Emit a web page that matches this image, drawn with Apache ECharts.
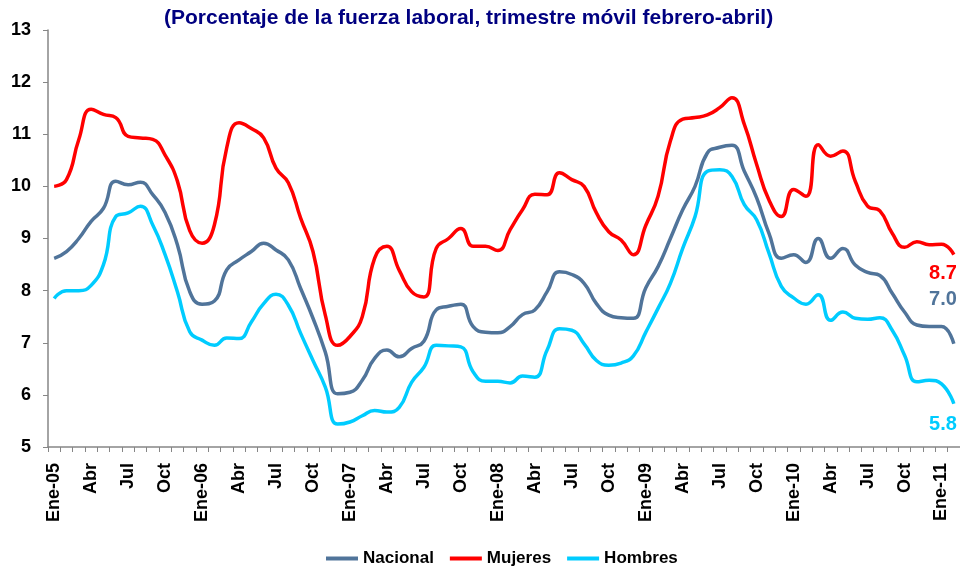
<!DOCTYPE html>
<html><head><meta charset="utf-8">
<script src="https://cdn.jsdelivr.net/npm/echarts@6/dist/echarts.min.js"></script>
<style>html,body{margin:0;padding:0;background:#fff}#c{width:960px;height:569px}</style>
</head><body><div id="c"></div><script>
const titleText = '(Porcentaje de la fuerza laboral, trimestre móvil febrero-abril)';
const categories = [
 'Ene-05','Feb-05','Mar-05','Abr-05','May-05','Jun-05','Jul-05','Ago-05','Sep-05','Oct-05','Nov-05','Dic-05',
 'Ene-06','Feb-06','Mar-06','Abr-06','May-06','Jun-06','Jul-06','Ago-06','Sep-06','Oct-06','Nov-06','Dic-06',
 'Ene-07','Feb-07','Mar-07','Abr-07','May-07','Jun-07','Jul-07','Ago-07','Sep-07','Oct-07','Nov-07','Dic-07',
 'Ene-08','Feb-08','Mar-08','Abr-08','May-08','Jun-08','Jul-08','Ago-08','Sep-08','Oct-08','Nov-08','Dic-08',
 'Ene-09','Feb-09','Mar-09','Abr-09','May-09','Jun-09','Jul-09','Ago-09','Sep-09','Oct-09','Nov-09','Dic-09',
 'Ene-10','Feb-10','Mar-10','Abr-10','May-10','Jun-10','Jul-10','Ago-10','Sep-10','Oct-10','Nov-10','Dic-10',
 'Ene-11','Feb-11'
];
const seriesNames = ['Nacional','Mujeres','Hombres'];
const nacional = [
 8.62,8.75,9.0,9.33,9.58,10.1,10.03,10.08,9.84,9.5,8.88,7.98,
 7.74,7.8,8.4,8.59,8.75,8.91,8.78,8.59,8.04,7.47,6.82,6.02,
 6.05,6.28,6.7,6.86,6.73,6.89,7.03,7.63,7.70,7.74,7.31,7.2,
 7.19,7.31,7.54,7.63,7.98,8.36,8.31,8.14,7.75,7.53,7.48,7.47,
 8.05,8.46,9.0,9.55,10.0,10.64,10.75,10.79,10.29,9.78,9.10,8.62,
 8.69,8.54,9.0,8.62,8.81,8.49,8.35,8.29,7.95,7.59,7.34,7.31,
 7.31,6.98
];
const mujeres = [
 10.0,10.13,10.9,11.48,11.38,11.32,10.96,10.93,10.9,10.6,10.1,9.15,
 8.91,9.26,10.74,11.22,11.11,10.93,10.35,10.07,9.39,8.75,7.53,6.95,
 7.12,7.5,8.62,8.85,8.39,7.98,7.88,8.81,9.0,9.19,8.85,8.85,
 8.77,9.17,9.55,9.85,9.84,10.26,10.13,10.0,9.49,9.13,8.97,8.69,
 9.25,9.81,10.87,11.29,11.32,11.37,11.51,11.70,11.19,10.42,9.74,9.42,
 9.94,9.81,10.8,10.58,10.68,10.1,9.62,9.53,9.1,8.83,8.94,8.88,
 8.89,8.69
];
const hombres = [
 7.85,8.0,8.0,8.1,8.5,9.42,9.49,9.62,9.26,8.69,7.98,7.21,
 7.05,6.95,7.09,7.08,7.40,7.75,7.93,7.72,7.18,6.66,6.15,5.44,
 5.48,5.6,5.7,5.67,5.76,6.24,6.53,6.95,6.94,6.92,6.44,6.26,
 6.26,6.23,6.36,6.34,6.86,7.27,7.24,6.98,6.66,6.57,6.61,6.75,
 7.2,7.66,8.14,8.81,9.42,10.29,10.32,10.19,9.65,9.36,8.72,8.08,
 7.86,7.74,7.92,7.43,7.59,7.47,7.45,7.48,7.24,6.76,6.25,6.28,
 6.21,5.83
];
const yMin = 5, yMax = 13, yStep = 1;
const colors = ['#50749A','#FF0000','#00CCFF'];
const endOffsets = [[-5,-44],[-5,19],[-5,21]];
const FONT = '"Liberation Sans", Arial, sans-serif';

const chart = echarts.init(document.getElementById('c'), null, {renderer:'canvas'});
const data = [nacional, mujeres, hombres];
chart.setOption({
  animation: false,
  backgroundColor: '#ffffff',
  title: {
    text: titleText, left: 164, top: 8, padding: 0,
    textStyle: {color:'#000080', fontWeight:'bold', fontSize:21, fontFamily:FONT}
  },
  legend: {
    data: seriesNames, left: 326, top: 550, padding: 0, icon: 'rect', itemWidth: 32, itemHeight: 4,
    itemGap: 16,
    textStyle: {color:'#000', fontWeight:'bold', fontSize:17, fontFamily:FONT}
  },
  grid: {left: 48, right: 0, top: 30, bottom: 122, containLabel: false, outerBoundsMode: 'none'},
  xAxis: {
    type: 'category', data: categories, boundaryGap: true,
    axisLine: {show:true, lineStyle:{color:'#868686', width:1.5}},
    axisTick: {show:true, interval:0, length:5, lineStyle:{color:'#868686'}},
    axisLabel: {
      interval: 2, rotate: 90, margin: 16, color:'#000', fontWeight:'bold', fontSize:18, fontFamily:FONT,
      formatter: v => v.startsWith('Ene') ? v : v.split('-')[0]
    },
    splitLine: {show:false}
  },
  yAxis: {
    type: 'value', min: yMin, max: yMax, interval: yStep,
    axisLine: {show:true, lineStyle:{color:'#868686', width:1.5}},
    axisTick: {show:true, length:5, lineStyle:{color:'#868686'}},
    axisLabel: {margin: 17, color:'#000', fontWeight:'bold', fontSize:18, fontFamily:FONT},
    splitLine: {show:false}
  },
  series: seriesNames.map((n, k) => ({
    name: n, type: 'line', data: data[k], smooth: 0.5, showSymbol: false, symbol: 'none',
    lineStyle: {color: colors[k], width: 3.5}, itemStyle: {color: colors[k]},
    endLabel: {
      show: true, align: 'right', offset: endOffsets[k], color: colors[k],
      fontWeight: 'bold', fontSize: 20, fontFamily: FONT,
      formatter: p => Number(p.value).toFixed(1)
    }
  }))
});
</script></body></html>
